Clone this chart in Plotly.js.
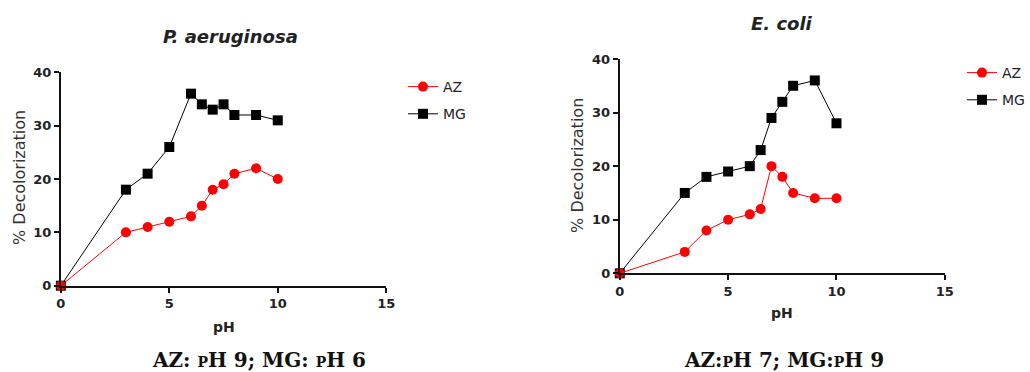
<!DOCTYPE html>
<html><head><meta charset="utf-8">
<script src="https://cdn.plot.ly/plotly-3.0.1.min.js"></script>
<style>html,body{margin:0;padding:0;background:#fff}</style>
</head><body><div id="chart" style="width:1030px;height:372px"></div>
<script>
const pH = [0, 3, 4, 5, 6, 6.5, 7, 7.5, 8, 9, 10];
const paAZ = [0, 10, 11, 12, 13, 15, 18, 19, 21, 22, 20];
const paMG = [0, 18, 21, 26, 36, 34, 33, 34, 32, 32, 31];
const ecAZ = [0, 4, 8, 10, 11, 12, 20, 18, 15, 14, 14];
const ecMG = [0, 15, 18, 19, 20, 23, 29, 32, 35, 36, 28];
const xTicks = [0, 5, 10, 15];
const yTicks = [0, 10, 20, 30, 40];

const mg = (x, y, xa, ya, lg) => ({x, y, xaxis: xa, yaxis: ya, legend: lg, legendgroup: lg + 'mg', legendrank: 2, name: 'MG', type: 'scatter', mode: 'lines+markers',
  line: {color: '#000', width: 1}, marker: {symbol: 'square', size: 10, color: '#000'}, cliponaxis: false});
const az = (x, y, xa, ya, lg) => ({x, y, xaxis: xa, yaxis: ya, legend: lg, legendgroup: lg + 'az', legendrank: 1, name: 'AZ', type: 'scatter', mode: 'lines+markers',
  line: {color: '#ff0000', width: 1}, marker: {symbol: 'circle', size: 10, color: '#ff0000'}, cliponaxis: false});

const data = [
  mg(pH, paMG, 'x', 'y', 'legend'), az(pH, paAZ, 'x', 'y', 'legend'),
  mg(pH, ecMG, 'x2', 'y2', 'legend2'), az(pH, ecAZ, 'x2', 'y2', 'legend2')
];

const SANS = 'DejaVu Sans, Arial, sans-serif';
const tickFont = {family: SANS, size: 13, color: '#222', weight: 'bold'};
const ax = (dom, range, ticks, anchor) => ({domain: dom, range: range, tickvals: ticks, ticktext: ticks.map(String),
  showgrid: false, zeroline: false, showline: true, linecolor: '#111', linewidth: 2,
  ticks: 'outside', ticklen: 5, tickwidth: 2, tickcolor: '#111', tickfont: tickFont, anchor: anchor, fixedrange: true});

const legFont = {family: SANS, size: 14, color: '#222'};
const legBase = {xanchor: 'left', yanchor: 'top', traceorder: 'grouped', font: legFont, bgcolor: 'rgba(0,0,0,0)', tracegroupgap: 6};
const layout = {
  width: 1030, height: 372, margin: {l: 0, r: 0, t: 0, b: 0},
  paper_bgcolor: '#fff', plot_bgcolor: '#fff',
  xaxis: ax([0.0592, 0.3757], [0, 15], xTicks, 'y'),
  yaxis: ax([0.232, 0.8056], [0, 40], yTicks, 'x'),
  xaxis2: ax([0.6029, 0.9191], [0, 15], xTicks, 'y2'),
  yaxis2: ax([0.2653, 0.8414], [0, 40], yTicks, 'x2'),
  legend: Object.assign({x: 0.392, y: 1 - 71/372}, legBase),
  legend2: Object.assign({x: 0.936, y: 1 - 57/372}, legBase),
  annotations: [
    {text: 'P. aeruginosa', x: 231/1030, y: 1 - 36/372, xref: 'paper', yref: 'paper', showarrow: false, xanchor: 'center', yanchor: 'middle',
      font: {family: SANS, size: 18, color: '#222', weight: 'bold', style: 'italic'}},
    {text: 'E. coli', x: 784/1030, y: 1 - 24/372, xref: 'paper', yref: 'paper', showarrow: false, xanchor: 'center', yanchor: 'middle',
      font: {family: SANS, size: 18, color: '#222', weight: 'bold', style: 'italic'}},
    {text: 'pH', x: 224/1030, y: 1 - 327/372, xref: 'paper', yref: 'paper', showarrow: false, xanchor: 'center', yanchor: 'middle',
      font: {family: SANS, size: 14, color: '#222', weight: 'bold'}},
    {text: 'pH', x: 784/1030, y: 1 - 313/372, xref: 'paper', yref: 'paper', showarrow: false, xanchor: 'center', yanchor: 'middle',
      font: {family: SANS, size: 14, color: '#222', weight: 'bold'}},
    {text: '% Decolorization', x: 19/1030, y: 1 - 177/372, xref: 'paper', yref: 'paper', showarrow: false, textangle: -90, xanchor: 'center', yanchor: 'middle',
      font: {family: SANS, size: 16, color: '#333'}},
    {text: '% Decolorization', x: 578/1030, y: 1 - 165/372, xref: 'paper', yref: 'paper', showarrow: false, textangle: -90, xanchor: 'center', yanchor: 'middle',
      font: {family: SANS, size: 16, color: '#333'}},
    {text: 'AZ: pH 9; MG: pH 6', x: 260/1030, y: 1 - 360/372, xref: 'paper', yref: 'paper', showarrow: false, xanchor: 'center', yanchor: 'middle',
      font: {family: 'DejaVu Serif, Liberation Serif, serif', size: 20, color: '#111', weight: 'bold', variant: 'small-caps'}},
    {text: 'AZ:pH 7; MG:pH 9', x: 786/1030, y: 1 - 360/372, xref: 'paper', yref: 'paper', showarrow: false, xanchor: 'center', yanchor: 'middle',
      font: {family: 'DejaVu Serif, Liberation Serif, serif', size: 20, color: '#111', weight: 'bold', variant: 'small-caps'}}
  ],
  showlegend: true
};
Plotly.newPlot('chart', data, layout, {displayModeBar: false, staticPlot: true});
</script></body></html>
